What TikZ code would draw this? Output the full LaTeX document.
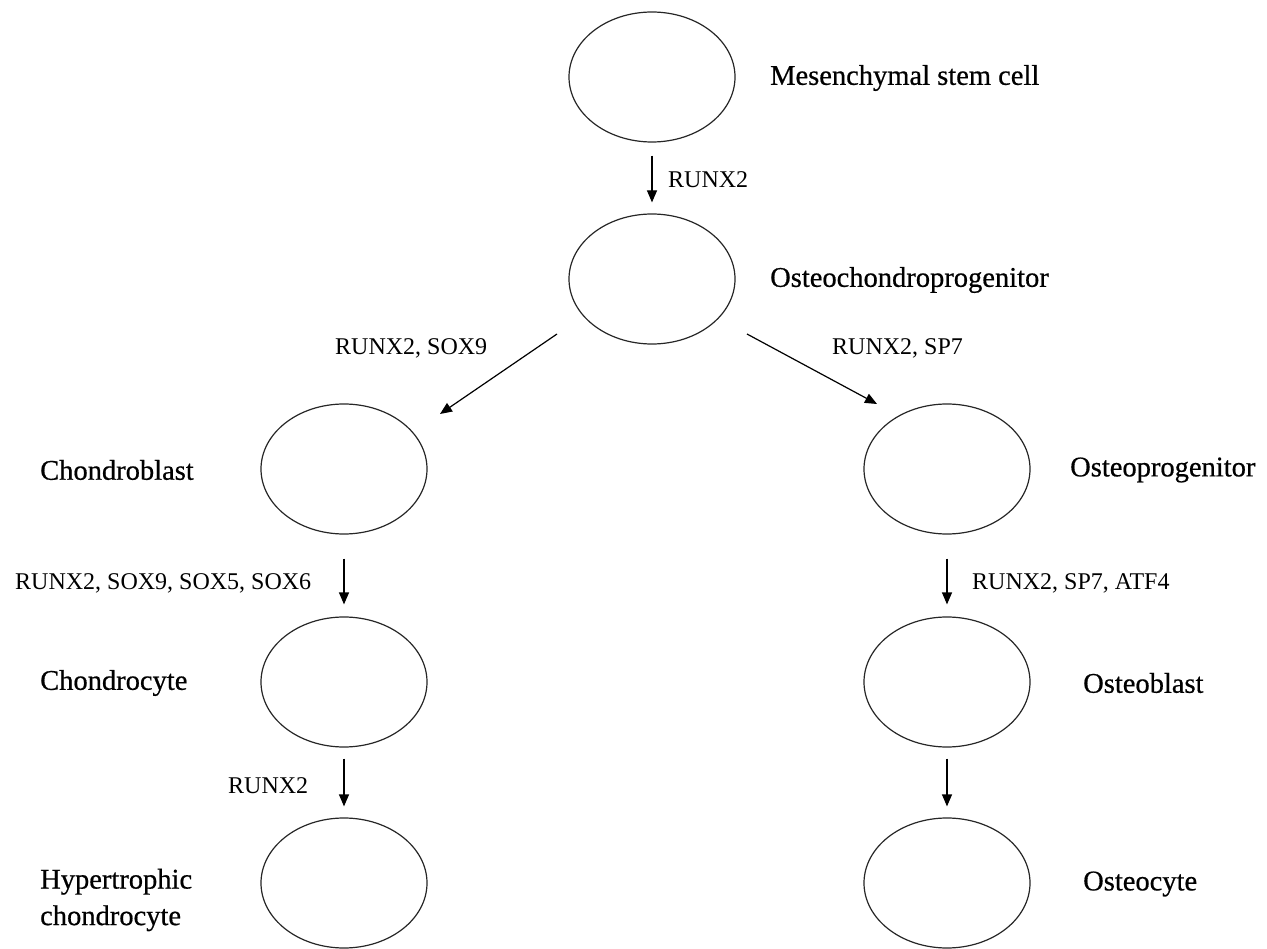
\documentclass[tikz,border=0pt]{standalone}
\usepackage{fontspec}
\setmainfont{Liberation Serif}
\newfontfamily\celllabelfont[FakeBold=0.6]{Liberation Serif}
\usetikzlibrary{shapes.geometric,arrows.meta,calc}
\tikzset{
  cell/.style={ellipse, draw=black!85, line width=1.2pt, minimum width=166pt, minimum height=130pt, inner sep=0pt},
  celllabel/.style={anchor=west, inner sep=0pt, font=\celllabelfont\fontsize{28.5}{36.5}\selectfont, align=left},
  factor/.style={anchor=west, inner sep=0pt, font=\fontsize{24}{28}\selectfont},
  arr/.style={line width=1.2pt, -{Triangle[length=12pt,width=10pt]}}
}
\begin{document}
\begin{tikzpicture}[x=1pt,y=-1pt]
\useasboundingbox (0,0) rectangle (1267,949);
% cells
\node[cell] (msc) at (652,77) {};
\node[cell] (ocp) at (652,279) {};
\node[cell] (cb) at (344,469) {};
\node[cell] (op) at (947,469) {};
\node[cell] (cc) at (344,682) {};
\node[cell] (ob) at (947,682) {};
\node[cell] (hc) at (344,883) {};
\node[cell] (oc) at (947,883) {};
% names
\node[celllabel] (lmsc) at (770,78) {Mesenchymal stem cell};
\node[celllabel] (locp) at (770,280) {Osteochondroprogenitor};
\node[celllabel] (lcb) at (40,470) {Chondroblast};
\node[celllabel] (lop) at (1070,470) {Osteoprogenitor};
\node[celllabel] (lcc) at (40,683) {Chondrocyte};
\node[celllabel] (lob) at (1083,683) {Osteoblast};
\node[celllabel] (lhc) at (40,900) {Hypertrophic\\chondrocyte};
\node[celllabel] (loc) at (1083,884) {Osteocyte};
% arrows
\draw[arr, shorten <=13pt, shorten >=11pt] (msc.south) -- (ocp.north);
\draw[arr] ($(ocp)+(-95,55)$) -- ($(cb)+(96,-55)$);
\draw[arr] ($(ocp)+(95,55)$) -- ($(op)+(-70,-65)$);
\draw[arr, shorten <=24pt, shorten >=12pt] (cb.south) -- (cc.north);
\draw[arr, shorten <=24pt, shorten >=12pt] (op.south) -- (ob.north);
\draw[arr, shorten <=11pt, shorten >=11pt] (cc.south) -- (hc.north);
\draw[arr, shorten <=11pt, shorten >=11pt] (ob.south) -- (oc.north);
% factors
\node[factor] (f1) at (668,180) {RUNX2};
\node[factor] (f2) at (335,348) {RUNX2, SOX9};
\node[factor] (f3) at (832,348) {RUNX2, SP7};
\node[factor] (f4) at (15,583) {RUNX2, SOX9, SOX5, SOX6};
\node[factor] (f5) at (972,583) {RUNX2, SP7, ATF4};
\node[factor] (f6) at (228,786) {RUNX2};
\end{tikzpicture}
\end{document}
